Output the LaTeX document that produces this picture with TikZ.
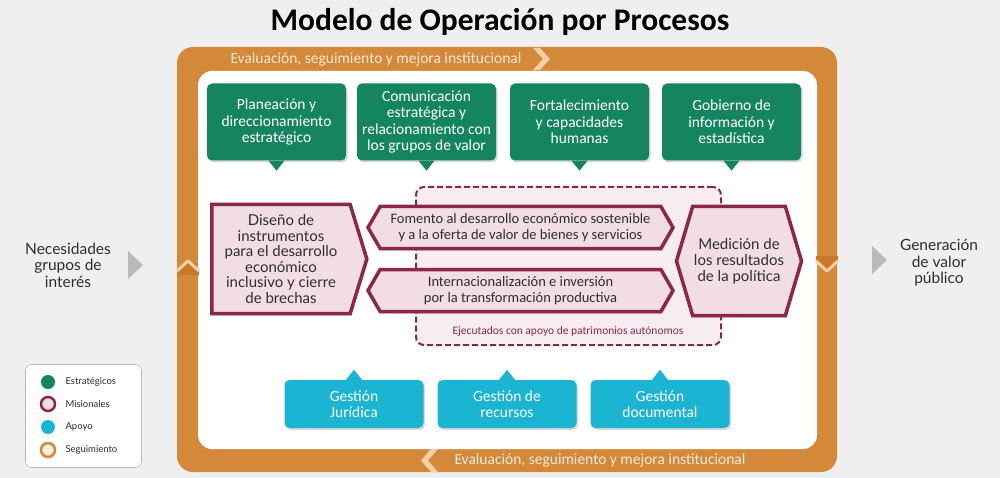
\documentclass[tikz,border=0pt]{standalone}
\usepackage{fontspec}
\setmainfont{Carlito}
\newfontfamily\latofont{Lato}
\usetikzlibrary{shapes.symbols}
\usetikzlibrary{shadows}
\usetikzlibrary{positioning}

\definecolor{naranja}{HTML}{D4883A}
\definecolor{naranjaosc}{HTML}{C77A2C}
\definecolor{durazno}{HTML}{F5D0A6}
\definecolor{verde}{HTML}{15855F}
\definecolor{vino}{HTML}{8A2846}
\definecolor{rosado}{HTML}{F2DDE3}
\definecolor{rosaclaro}{HTML}{F7ECEF}
\definecolor{cian}{HTML}{1BB4D2}
\definecolor{fondo}{HTML}{EFEFEF}
\definecolor{crema}{HTML}{FCEBD6}
\definecolor{texto}{HTML}{2E2E2E}

\begin{document}
\begin{tikzpicture}[x=1pt,y=-1pt,
    sombra/.style={drop shadow={opacity=0.3,shadow xshift=1.5pt,shadow yshift=-2pt}},
    estr node/.style={rectangle,rounded corners=5pt,fill=verde,text=white,minimum width=139pt,minimum height=77pt,inner sep=0pt,align=center,font=\fontsize{15.5}{16.5}\selectfont,sombra},
    apoyo node/.style={rectangle,rounded corners=5pt,fill=cian,text=white,minimum width=139pt,minimum height=48pt,inner sep=0pt,align=center,font=\fontsize{15.5}{16.5}\selectfont,sombra},
    mision node/.style={signal,draw=vino,line width=3.5pt,fill=rosado,text=texto,inner sep=0pt,align=center,sombra},
    banda text/.style={text=crema,font=\fontsize{15.5}{17}\selectfont},
    lado text/.style={align=center,text=texto,font=\latofont\fontsize{15.5}{16.5}\selectfont},
    ley node/.style={circle,minimum size=14pt,inner sep=0pt},
    ley text/.style={anchor=west,text=texto,font=\latofont\fontsize{9.5}{11}\selectfont}]

  \useasboundingbox (0,0) rectangle (1000,478);
  \fill[fondo] (0,0) rectangle (1000,478);

  % titulo
  \node[font=\fontsize{31.5}{34}\bfseries] (titulo) at (500,22) {Modelo de Operación por Procesos};

  % marco de seguimiento
  \node[rectangle,rounded corners=16pt,fill=naranja,minimum width=660pt,minimum height=425pt] (marco) at (507,259.5) {};
  \node[rectangle,rounded corners=14pt,fill=white,minimum width=619pt,minimum height=378pt] (interior) at (507.5,260) {};
  \node[banda text] (evalsup) at (376,59) {Evaluación, seguimiento y mejora institucional};
  \node[banda text] (evalinf) at (600,460) {Evaluación, seguimiento y mejora institucional};
  \fill[durazno] (533,48) -- (540,48) -- (550,59) -- (540,70) -- (533,70) -- (543,59) -- cycle;
  \fill[durazno] (438,449) -- (431,449) -- (421,460.5) -- (431,472) -- (438,472) -- (428,460.5) -- cycle;
  \fill[naranjaosc] (177,271) -- (188,261) -- (199,271) -- (199,275) -- (177,275) -- cycle;
  \draw[durazno,line width=3pt,line join=round] (177,271) -- (188,261) -- (199,271);
  \fill[naranjaosc] (816,256) -- (838,256) -- (838,261) -- (827,271) -- (816,261) -- cycle;
  \draw[durazno,line width=3pt,line join=round] (816,261) -- (827,271) -- (838,261);

  % estrategicos
  \node[estr node] (plan) at (276.5,122) {Planeación y\\direccionamiento\\estratégico};
  \node[estr node] (comu) at (426.5,122) {Comunicación\\estratégica y\\relacionamiento con\\los grupos de valor};
  \node[estr node] (fort) at (579.5,122) {Fortalecimiento\\y capacidades\\humanas};
  \node[estr node] (gobi) at (731.5,122) {Gobierno de\\información y\\estadística};
  \fill[verde] ([xshift=-8pt]plan.south) -- ([xshift=8pt]plan.south) -- ([yshift=-10pt]plan.south) -- cycle;
  \fill[verde] ([xshift=-8pt]comu.south) -- ([xshift=8pt]comu.south) -- ([yshift=-10pt]comu.south) -- cycle;
  \fill[verde] ([xshift=-8pt]fort.south) -- ([xshift=8pt]fort.south) -- ([yshift=-10pt]fort.south) -- cycle;
  \fill[verde] ([xshift=-8pt]gobi.south) -- ([xshift=8pt]gobi.south) -- ([yshift=-10pt]gobi.south) -- cycle;

  % misionales
  \node[rectangle,rounded corners=8pt,draw=vino,dash pattern=on 6pt off 3pt,line width=2pt,fill=rosaclaro,minimum width=305pt,minimum height=158pt] (patri) at (568.5,266) {};
  \node[text=vino,font=\fontsize{11.5}{13}\selectfont] (ejec) at (568,331) {Ejecutados con apoyo de patrimonios autónomos};
  \node[mision node,signal to=east,signal pointer angle=146,minimum width=155pt,minimum height=109pt,font=\latofont\fontsize{15}{15.5}\selectfont] (dise) at (281,259) {Diseño de\\instrumentos\\para el desarrollo\\económico\\inclusivo y cierre\\de brechas};
  \node[mision node,signal to=west and east,signal pointer angle=120,minimum width=305pt,minimum height=42pt,font=\fontsize{14.5}{16.5}\selectfont] (fome) at (520.5,227.5) {Fomento al desarrollo económico sostenible\\y a la oferta de valor de bienes y servicios};
  \node[mision node,signal to=west and east,signal pointer angle=120,minimum width=305pt,minimum height=42pt,font=\fontsize{14.5}{16.5}\selectfont] (inte) at (520.5,290.5) {Internacionalización e inversión\\por la transformación productiva};
  \node[mision node,signal to=west and east,signal pointer angle=147,minimum width=125pt,minimum height=109pt,font=\latofont\fontsize{15}{16}\selectfont] (medi) at (739,261) {Medición de\\los resultados\\de la política};

  % apoyo
  \node[apoyo node] (juri) at (354,404) {Gestión\\Jurídica};
  \node[apoyo node] (recu) at (507,404) {Gestión de\\recursos};
  \node[apoyo node] (docu) at (660,404) {Gestión\\documental};
  \fill[cian] ([xshift=-8pt]juri.north) -- ([xshift=8pt]juri.north) -- ([yshift=10pt]juri.north) -- cycle;
  \fill[cian] ([xshift=-8pt]recu.north) -- ([xshift=8pt]recu.north) -- ([yshift=10pt]recu.north) -- cycle;
  \fill[cian] ([xshift=-8pt]docu.north) -- ([xshift=8pt]docu.north) -- ([yshift=10pt]docu.north) -- cycle;

  % entradas y salidas
  \node[lado text] (nece) at (68,265) {Necesidades\\grupos de\\interés};
  \node[lado text] (gene) at (939,263) {Generación\\de valor\\público};
  \fill[gray!55] (128,251) -- (143,265) -- (128,279) -- cycle;
  \fill[gray!55] (872,246) -- (887,260) -- (872,274) -- cycle;

  % leyenda
  \node[rectangle,rounded corners=6pt,draw=gray!55,fill=white,line width=0.6pt,minimum width=116pt,minimum height=103pt] (leyenda) at (83.5,416) {};
  \node[ley node,fill=verde] (c1) at (48,382) {};
  \node[ley node,fill=rosado,draw=vino,line width=2.5pt] (c2) at (48,404) {};
  \node[ley node,fill=cian] (c3) at (48,427) {};
  \node[ley node,fill=crema,draw=naranja,line width=2.5pt] (c4) at (48,450) {};
  \node[ley text] (t1) at (62,382) {Estratégicos};
  \node[ley text] (t2) at (62,404) {Misionales};
  \node[ley text] (t3) at (62,427) {Apoyo};
  \node[ley text] (t4) at (62,450) {Seguimiento};
\end{tikzpicture}
\end{document}
